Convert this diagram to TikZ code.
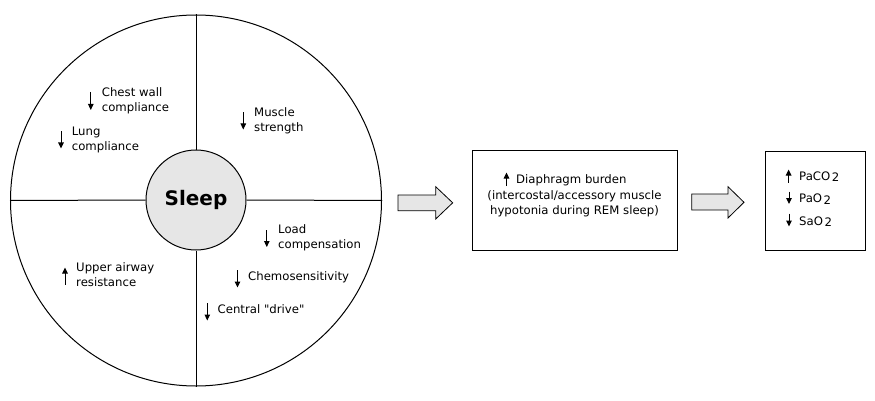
\documentclass[tikz,border=0pt]{standalone}
\usepackage{fontspec}
\setmainfont{DejaVu Sans}
\usetikzlibrary{arrows.meta}
\definecolor{lightfill}{HTML}{E6E6E6}
\tikzset{
  txt/.style={inner sep=0pt, align=left, anchor=north west, font=\fontsize{11.7}{15}\selectfont},
  ctxt/.style={inner sep=0pt, align=center, anchor=north, font=\fontsize{11.7}{15}\selectfont},
  btxt/.style={inner sep=0pt, anchor=base west, font=\fontsize{11.7}{15}\selectfont},
  updown/.style={-{Triangle[length=6pt,width=5.5pt]}, line width=1pt},
  ring/.style={draw, circle, line width=1pt, inner sep=0pt},
  boxx/.style={draw, line width=1pt, inner sep=0pt},
  blockarrow/.style={draw, line width=0.8pt, fill=lightfill, line join=miter},
}
\newcommand{\subtwo}{\kern1.5pt\raisebox{-1.8pt}{2}}
\begin{document}
\begin{tikzpicture}[x=1pt,y=-1pt]
\useasboundingbox (0,0) rectangle (875,401);
% circles
\node[ring, minimum size=371pt] (outer) at (196,200.5) {};
\node[ring, fill=lightfill, minimum size=100pt, font=\bfseries\fontsize{20}{24}\selectfont] (sleep) at (196,200) {Sleep};
\draw[line width=1pt] (outer.north) -- (sleep.north);
\draw[line width=1pt] (outer.south) -- (sleep.south);
\draw[line width=1pt] (outer.west) -- (sleep.west);
\draw[line width=1pt] (outer.east) -- (sleep.east);
% quadrant texts
\node[txt] (cw) at (101.7,87.3) {Chest wall\\compliance};
\draw[updown] (90.8,92) -- (90.8,110);
\node[txt] (lung) at (71.7,126.5) {Lung\\compliance};
\draw[updown] (61,131.5) -- (61,148.5);
\node[txt] (musc) at (254,107.3) {Muscle\\strength};
\draw[updown] (243.3,112.5) -- (243.3,129.5);
\node[txt] (load) at (278,224.8) {Load\\compensation};
\draw[updown] (266.8,230) -- (266.8,247);
\node[txt] (chemo) at (248,271.5) {Chemosensitivity};
\draw[updown] (237.5,270) -- (237.5,287.5);
\node[txt] (central) at (217.5,304.8) {Central \textquotedbl drive\textquotedbl};
\draw[updown] (207.3,303) -- (207.3,320.5);
\node[txt] (upper) at (76,262.5) {Upper airway\\resistance};
\draw[updown] (65,284.5) -- (65,267.5);
% block arrow 1
\draw[blockarrow] (398,195) -- (435.7,195) -- (435.7,186.7) -- (452.7,202.8) -- (435.7,219) -- (435.7,210.7) -- (398,210.7) -- cycle;
% box 1
\node[boxx, minimum width=205pt, minimum height=100pt, anchor=north west] (box1) at (472,150) {};
\node[txt] (diaph) at (516,174.5) {Diaphragm burden};
\draw[updown] (506.5,186) -- (506.5,172.5);
\node[ctxt] (inter) at (574.5,190.5) {(intercostal/accessory muscle\\hypotonia during REM sleep)};
% block arrow 2
\draw[blockarrow] (691.7,194) -- (728,194) -- (728,186.7) -- (744,202.3) -- (728,218) -- (728,210) -- (691.7,210) -- cycle;
% box 2
\node[boxx, minimum width=100pt, minimum height=99.5pt, anchor=north west] (box2) at (765,150.5) {};
\node[btxt] (paco) at (799,180) {PaCO\subtwo};
\draw[updown] (788.6,182.5) -- (788.6,169.5);
\node[btxt] (pao) at (799,202.5) {PaO\subtwo};
\draw[updown] (789,191.5) -- (789,204);
\node[btxt] (sao) at (799,225) {SaO\subtwo};
\draw[updown] (789,213.5) -- (789,226.5);
\end{tikzpicture}
\end{document}
